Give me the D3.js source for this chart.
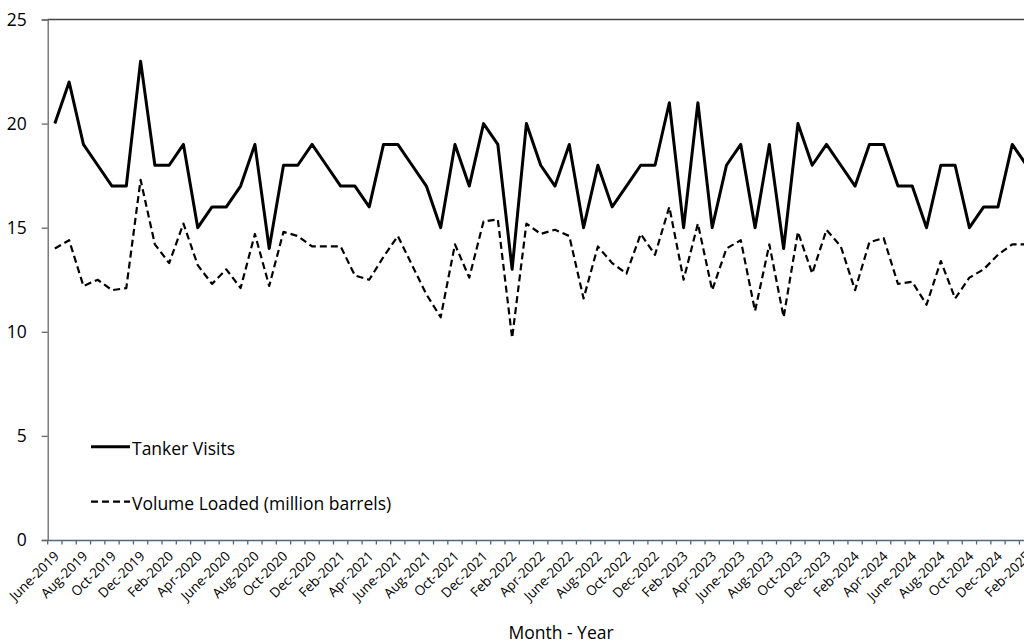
<!DOCTYPE html>
<meta charset="utf-8">

<!-- Load d3.js -->
<script src="https://d3js.org/d3.v7.min.js"></script>

<style>
  body { margin: 0; background: #fff; }
  svg { display: block; }
  text { font-family: "Open Sans", sans-serif; fill: #000; }
</style>

<div id="my_dataviz"></div>

<script>

  // categories: one per month, June 2019 to Mar 2025 (only every 2nd one is labelled)
  var months = [
    "June-2019", "July-2019", "Aug-2019", "Sept-2019", "Oct-2019", "Nov-2019", "Dec-2019",
    "Jan-2020", "Feb-2020", "Mar-2020", "Apr-2020", "May-2020", "June-2020", "July-2020", "Aug-2020", "Sept-2020", "Oct-2020", "Nov-2020", "Dec-2020",
    "Jan-2021", "Feb-2021", "Mar-2021", "Apr-2021", "May-2021", "June-2021", "July-2021", "Aug-2021", "Sept-2021", "Oct-2021", "Nov-2021", "Dec-2021",
    "Jan-2022", "Feb-2022", "Mar-2022", "Apr-2022", "May-2022", "June-2022", "July-2022", "Aug-2022", "Sept-2022", "Oct-2022", "Nov-2022", "Dec-2022",
    "Jan-2023", "Feb-2023", "Mar-2023", "Apr-2023", "May-2023", "June-2023", "July-2023", "Aug-2023", "Sept-2023", "Oct-2023", "Nov-2023", "Dec-2023",
    "Jan-2024", "Feb-2024", "Mar-2024", "Apr-2024", "May-2024", "June-2024", "July-2024", "Aug-2024", "Sept-2024", "Oct-2024", "Nov-2024", "Dec-2024",
    "Jan-2025", "Feb-2025", "Mar-2025"
  ];

  // series (visible part of the chart, June 2019 - Feb 2025)
  var tankerVisits = [
    20, 22, 19, 18, 17, 17, 23, 18, 18, 19,
    15, 16, 16, 17, 19, 14, 18, 18, 19, 18,
    17, 17, 16, 19, 19, 18, 17, 15, 19, 17,
    20, 19, 13, 20, 18, 17, 19, 15, 18, 16,
    17, 18, 18, 21, 15, 21, 15, 18, 19, 15,
    19, 14, 20, 18, 19, 18, 17, 19, 19, 17,
    17, 15, 18, 18, 15, 16, 16, 19, 18
  ];

  var volumeLoaded = [
    14.0, 14.4, 12.2, 12.5, 12.0, 12.1, 17.3, 14.2, 13.3, 15.2,
    13.2, 12.3, 13.0, 12.1, 14.7, 12.2, 14.8, 14.6, 14.1, 14.1,
    14.1, 12.7, 12.5, 13.6, 14.6, 13.2, 11.8, 10.7, 14.2, 12.6,
    15.3, 15.4, 9.7, 15.2, 14.7, 14.9, 14.6, 11.6, 14.1, 13.3,
    12.8, 14.7, 13.7, 16.0, 12.5, 15.2, 12.0, 14.0, 14.4, 11.0,
    14.2, 10.7, 14.8, 12.8, 14.9, 14.1, 12.0, 14.3, 14.5, 12.3,
    12.4, 11.3, 13.4, 11.6, 12.6, 13.0, 13.7, 14.2, 14.2
  ];

  var yTicks = [0, 5, 10, 15, 20, 25];

  var seriesNames = ["Tanker Visits", "Volume Loaded (million barrels)"];

  // set the dimensions and margins of the graph
  var margin = { top: 19.5, left: 47.7 },
    step = 14.29,
    width = months.length * step,
    height = 520.5;

  var svg = d3.select("#my_dataviz")
    .append("svg")
    .attr("width", 1024)
    .attr("height", 641)
    .append("g")
    .attr("transform", "translate(" + margin.left + "," + margin.top + ")");

  // X scale: categories
  var x = d3.scaleBand()
    .domain(months)
    .range([0, width])
    .padding(0);
  var bw = x.bandwidth();

  // Y scale
  var y = d3.scaleLinear()
    .domain([0, 25])
    .range([height, 0]);

  // top border of plot area
  svg.append("line")
    .attr("x1", 0)
    .attr("x2", width + 40)
    .attr("y1", 0)
    .attr("y2", 0)
    .attr("stroke", "#444")
    .attr("stroke-width", 1.5);

  // Y axis
  var yAxis = svg.append("g")
    .call(d3.axisLeft(y).tickValues(yTicks).tickSize(6).tickPadding(15));
  yAxis.select(".domain").attr("stroke", "#666").attr("stroke-width", 1.3);
  yAxis.selectAll(".tick line").attr("stroke", "#666").attr("stroke-width", 1.3);
  yAxis.selectAll(".tick text")
    .style("font-family", "'Open Sans', sans-serif")
    .style("font-size", "17.5px");

  // X axis: tick marks between categories, every 2nd category labelled
  var xAxis = svg.append("g")
    .attr("transform", "translate(0," + height + ")")
    .call(d3.axisBottom(x)
      .tickSizeOuter(0)
      .tickSizeInner(4.5)
      .tickFormat(function (d, i) { return i % 2 === 0 ? d : ""; }));
  xAxis.select(".domain").attr("stroke", "#55657a").attr("stroke-width", 1.5);
  xAxis.selectAll(".tick line")
    .attr("x1", -bw / 2)
    .attr("x2", -bw / 2)
    .attr("stroke", "#55657a")
    .attr("stroke-width", 1.3);
  xAxis.selectAll(".tick text")
    .style("font-family", "'Open Sans', sans-serif")
    .style("font-size", "13.5px")
    .attr("text-anchor", "end")
    .attr("dx", 0)
    .attr("dy", 0)
    .attr("y", 0)
    .attr("transform", "translate(5,17) rotate(-45)");

  // Line generator
  var line = d3.line()
    .x(function (d, i) { return x(months[i]) + bw / 2; })
    .y(function (d) { return y(d); });

  svg.append("path")
    .datum(volumeLoaded)
    .attr("fill", "none")
    .attr("stroke", "#000")
    .attr("stroke-width", 2.2)
    .attr("stroke-dasharray", "7,4")
    .attr("stroke-linejoin", "round")
    .attr("d", line);

  svg.append("path")
    .datum(tankerVisits)
    .attr("fill", "none")
    .attr("stroke", "#000")
    .attr("stroke-width", 3)
    .attr("stroke-linejoin", "round")
    .attr("d", line);

  // Legend (inside plot area, lower left)
  var root = d3.select("#my_dataviz svg");
  var legend = root.append("g");
  var legendRows = [
    { name: seriesNames[0], y: 446.7, dash: null, w: 3 },
    { name: seriesNames[1], y: 501.7, dash: "7,4", w: 2.2 }
  ];
  legendRows.forEach(function (r) {
    legend.append("line")
      .attr("x1", 91)
      .attr("x2", 130)
      .attr("y1", r.y)
      .attr("y2", r.y)
      .attr("stroke", "#000")
      .attr("stroke-width", r.w)
      .attr("stroke-dasharray", r.dash);
    legend.append("text")
      .attr("x", 132)
      .attr("y", r.y + 8)
      .style("font-size", "17.5px")
      .text(r.name);
  });

  // X axis label
  root.append("text")
    .attr("text-anchor", "middle")
    .attr("x", 561)
    .attr("y", 639)
    .style("font-size", "17.5px")
    .text("Month - Year");

</script>
